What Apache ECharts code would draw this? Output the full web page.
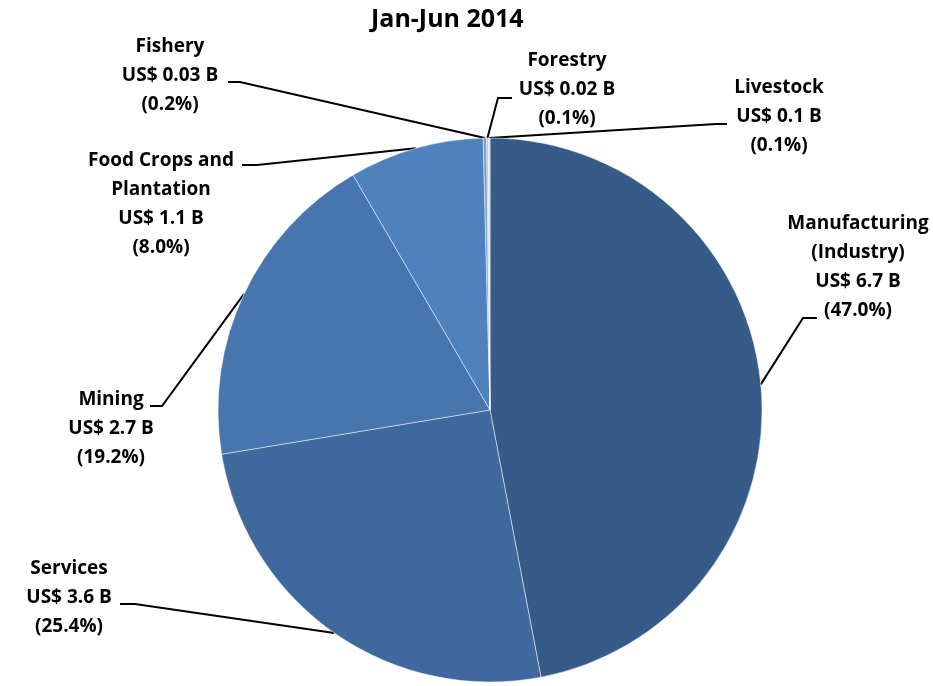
<!DOCTYPE html>
<html>
<head>
<meta charset="utf-8">
<title>Jan-Jun 2014</title>
<script src="https://cdn.jsdelivr.net/npm/echarts@6/dist/echarts.min.js"></script>
<style>
  html, body { margin: 0; padding: 0; background: #fff; }
  #chart { width: 933px; height: 686px; }
</style>
</head>
<body>
<div id="chart"></div>
<script>
// Sector shares, first half of 2014
const sectors = [
  'Manufacturing\n(Industry)',
  'Services',
  'Mining',
  'Food Crops and\nPlantation',
  'Fishery',
  'Forestry',
  'Livestock'
];
const valueUSD = ['6.7', '3.6', '2.7', '1.1', '0.03', '0.02', '0.1'];
const sharePct = [47.0, 25.4, 19.2, 8.0, 0.2, 0.1, 0.1];
const sliceColors = ['#375b88', '#3f699c', '#4776ae', '#4f81bd', '#7c9fd0', '#a9c1e2', '#cfdbee'];

// Label placement: block centre, leader end at the text, and the elbow point
const labelSpots = [
  { x: 858, y: 267, end: [817, 318], elbow: [803, 318] },
  { x: 69,  y: 598, end: [120, 604], elbow: [135, 604] },
  { x: 111, y: 429, end: [150, 406], elbow: [162, 406] },
  { x: 161, y: 204, end: [242, 165], elbow: [257, 165] },
  { x: 170, y: 76,  end: [228, 82],  elbow: [240, 82] },
  { x: 567, y: 90,  end: [512, 98],  elbow: [498, 98] },
  { x: 779, y: 117, end: [727, 124], elbow: [716, 124] }
];

const chart = echarts.init(document.getElementById('chart'), null, { renderer: 'canvas' });

const FONT = '"Open Sans", Lato, "Noto Sans", sans-serif';

chart.setOption({
  backgroundColor: '#ffffff',
  animation: false,
  title: {
    text: 'Jan-Jun 2014',
    left: 366,
    top: 2,
    textStyle: { fontFamily: FONT, fontWeight: 'bold', fontSize: 25, color: '#000' }
  },
  series: [{
    type: 'pie',
    center: [490, 410],
    radius: [0, 272],
    startAngle: 90,
    clockwise: true,
    avoidLabelOverlap: false,
    data: sectors.map((name, i) => ({
      name: name,
      value: sharePct[i],
      itemStyle: { color: sliceColors[i] }
    })),
    itemStyle: { borderColor: 'rgba(255,255,255,0.6)', borderWidth: 0.8 },
    label: {
      show: true,
      position: 'outside',
      formatter: p => p.name + '\nUS$ ' + valueUSD[p.dataIndex] + ' B\n(' + sharePct[p.dataIndex].toFixed(1) + '%)',
      fontFamily: FONT,
      fontWeight: 'bold',
      fontSize: 19,
      lineHeight: 29,
      color: '#000',
      align: 'center'
    },
    labelLine: {
      show: true,
      length: 10,
      length2: 10,
      lineStyle: { color: '#000', width: 2 }
    },
    labelLayout: function (params) {
      const spot = labelSpots[params.dataIndex];
      const pts = params.labelLinePoints;
      const start = pts && pts[0] ? pts[0] : spot.elbow;
      return {
        x: spot.x,
        y: spot.y,
        align: 'center',
        verticalAlign: 'middle',
        labelLinePoints: [start, spot.elbow, spot.end]
      };
    },
    emphasis: { disabled: true }
  }]
});
</script>
</body>
</html>
